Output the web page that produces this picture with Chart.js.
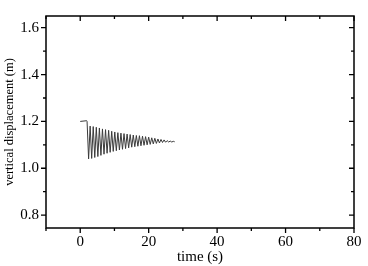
<!DOCTYPE html>
<html>
<head>
<meta charset="utf-8">
<script src="https://cdn.jsdelivr.net/npm/chart.js@4/dist/chart.umd.min.js"></script>
<style>
  html, body { margin: 0; padding: 0; background: #fff; }
  #wrap { width: 368px; height: 266px; }
</style>
</head>
<body>
<div id="wrap"><canvas id="dispChart"></canvas></div>
<script>
// time (s) and vertical displacement (m) (peaks / troughs)
const timeValues = [
  0, 1.9, 2.0, 2.45, 2.9, 3.35, 3.8, 4.25, 4.7, 5.15, 5.6, 6.05, 6.5, 6.95, 7.4,
  7.85, 8.3, 8.75, 9.2, 9.65, 10.1, 10.55, 11.0, 11.45, 11.9, 12.35, 12.8, 13.25,
  13.7, 14.15, 14.6, 15.05, 15.5, 15.95, 16.4, 16.85, 17.3, 17.75, 18.2, 18.65,
  19.1, 19.55, 20.0, 20.45, 20.9, 21.35, 21.8, 22.25, 22.7, 23.15, 23.6, 24.05,
  24.5, 24.95, 25.4, 25.85, 26.3, 26.75, 27.2, 27.6
];
const dispValues = [
  1.200, 1.203, 1.200, 1.040, 1.180, 1.042, 1.178, 1.046, 1.175, 1.050, 1.172, 1.055, 1.168, 1.060, 1.165,
  1.064, 1.162, 1.068, 1.158, 1.072, 1.155, 1.075, 1.152, 1.078, 1.150, 1.081, 1.148, 1.084,
  1.146, 1.087, 1.144, 1.090, 1.142, 1.092, 1.140, 1.094, 1.139, 1.096, 1.137, 1.098,
  1.135, 1.100, 1.133, 1.102, 1.130, 1.104, 1.128, 1.106, 1.125, 1.108, 1.123, 1.110,
  1.121, 1.111, 1.118, 1.112, 1.116, 1.112, 1.115, 1.113
];
const xLabelTicks = [0, 20, 40, 60, 80];
const yLabelTicks = [0.8, 1.0, 1.2, 1.4, 1.6];

const points = timeValues.map((t, i) => ({ x: t, y: dispValues[i] }));

// frame + inward/outward tick marks (Origin style)
const framePlugin = {
  id: 'frame',
  afterDraw(chart) {
    const { ctx, chartArea: a, scales } = chart;
    ctx.save();
    ctx.strokeStyle = '#000';
    ctx.lineWidth = 1.5;
    ctx.strokeRect(a.left, a.top, a.right - a.left, a.bottom - a.top);
    ctx.lineWidth = 1.3;
    ctx.beginPath();
    scales.x.ticks.forEach(tk => {
      const px = scales.x.getPixelForValue(tk.value);
      const major = xLabelTicks.some(v => Math.abs(v - tk.value) < 1e-6);
      const len = major ? 5 : 3;
      ctx.moveTo(px, a.bottom); ctx.lineTo(px, a.bottom + len);
      ctx.moveTo(px, a.top); ctx.lineTo(px, a.top + len);
    });
    scales.y.ticks.forEach(tk => {
      const py = scales.y.getPixelForValue(tk.value);
      const major = yLabelTicks.some(v => Math.abs(v - tk.value) < 1e-6);
      const len = major ? 5 : 3;
      ctx.moveTo(a.left, py); ctx.lineTo(a.left - len, py);
      ctx.moveTo(a.right, py); ctx.lineTo(a.right - len, py);
    });
    ctx.stroke();
    ctx.restore();
  }
};

const serif = 'Liberation Serif';

new Chart(document.getElementById('dispChart').getContext('2d'), {
  type: 'scatter',
  data: {
    datasets: [{
      data: points,
      showLine: true,
      borderColor: '#3a3a3a',
      borderWidth: 1,
      pointRadius: 0,
      tension: 0
    }]
  },
  options: {
    responsive: true,
    maintainAspectRatio: false,
    animation: false,
    layout: { padding: { top: 4, right: 14, left: 0, bottom: 0 } },
    plugins: { legend: { display: false }, tooltip: { enabled: false } },
    scales: {
      x: {
        type: 'linear',
        min: -10,
        max: 80,
        afterFit: s => { s.height = 38; },
        border: { display: false },
        grid: { display: false, drawTicks: false },
        ticks: {
          stepSize: 10,
          maxRotation: 0,
          autoSkip: false,
          padding: 5,
          color: '#000',
          font: { family: serif, size: 15 },
          callback: v => xLabelTicks.some(t => Math.abs(t - v) < 1e-6) ? String(v) : ''
        },
        title: {
          display: true,
          text: 'time (s)',
          color: '#000',
          padding: { top: -2, bottom: 0 },
          font: { family: serif, size: 15 }
        }
      },
      y: {
        type: 'linear',
        min: 0.745,
        max: 1.65,
        afterFit: s => { s.width = 46; },
        border: { display: false },
        grid: { display: false, drawTicks: false },
        ticks: {
          stepSize: 0.1,
          includeBounds: false,
          autoSkip: false,
          padding: 7,
          color: '#000',
          font: { family: serif, size: 15 },
          callback: v => yLabelTicks.some(t => Math.abs(t - v) < 1e-6) ? Number(v).toFixed(1) : ''
        },
        title: {
          display: true,
          text: 'vertical displacement (m)',
          color: '#000',
          padding: { top: 2, bottom: 0 },
          font: { family: serif, size: 12.5 }
        }
      }
    }
  },
  plugins: [framePlugin]
});
</script>
</body>
</html>
